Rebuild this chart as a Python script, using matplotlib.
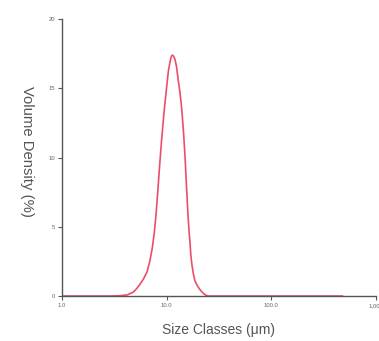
import matplotlib
matplotlib.use("Agg")
import matplotlib.pyplot as plt
from matplotlib.ticker import FixedLocator, FixedFormatter

# particle size (um) and volume density (%)
size_um = [1.0, 2.0, 3.0, 3.6, 4.2, 4.8, 5.15, 5.5, 6.0, 6.5, 6.9, 7.3, 7.6,
           7.9, 8.2, 8.6, 9.0, 9.5, 10.0, 10.4, 10.9, 11.15, 11.4, 11.7,
           12.0, 12.4, 12.9, 13.4, 13.9, 14.5, 15.0, 15.5, 16.0, 16.4, 16.7,
           17.0, 17.4, 17.95, 18.6, 19.3, 20.0, 21.0, 22.4, 23.5, 25.0, 30.0,
           50.0, 100.0, 200.0, 480.0]
density = [0.0, 0.0, 0.0, 0.02, 0.08, 0.28, 0.52, 0.8, 1.22, 1.75, 2.5, 3.5,
           4.5, 5.8, 7.4, 9.6, 11.5, 13.5, 15.1, 16.3, 17.1, 17.35, 17.4, 17.3,
           17.1, 16.6, 15.6, 14.7, 13.6, 11.8, 10.0, 7.8, 5.8, 4.6, 3.9,
           3.0, 2.3, 1.65, 1.1, 0.85, 0.65, 0.42, 0.19, 0.07, 0.0, 0.0,
           0.0, 0.0, 0.0, 0.0]

x_ticks = [1, 10, 100, 1000]
x_tick_labels = ["1.0", "10.0", "100.0", "1,000"]
y_ticks = [0, 5, 10, 15, 20]

plt.rcParams["font.family"] = ["Liberation Sans", "DejaVu Sans"]

fig = plt.figure(figsize=(3.79, 3.41), dpi=100)
ax = fig.add_axes([0.1636, 0.132, 0.992 - 0.1636, 0.944 - 0.132])

ax.plot(size_um, density, color="#ee4d69", lw=1.2,
        solid_capstyle="round", solid_joinstyle="round")

ax.set_xscale("log")
ax.set_xlim(1, 1000)
ax.set_ylim(0, 20)
ax.xaxis.set_major_locator(FixedLocator(x_ticks))
ax.xaxis.set_major_formatter(FixedFormatter(x_tick_labels))
ax.xaxis.set_minor_locator(FixedLocator([]))
ax.set_yticks(y_ticks)
ax.set_yticklabels([str(v) for v in y_ticks])

for side in ("top", "right"):
    ax.spines[side].set_visible(False)
for side in ("left", "bottom"):
    ax.spines[side].set_color("#555555")
    ax.spines[side].set_linewidth(1.0)

ax.tick_params(axis="both", length=3, width=0.8, color="#555555",
               labelsize=4.2, labelcolor="#666666", pad=2)

ax.set_xlabel("Size Classes (\u03bcm)", fontsize=10, color="#555555")
ax.xaxis.set_label_coords(0.5, -0.098)
ax.set_ylabel("Volume Density (%)", fontsize=10.7, color="#555555",
              rotation=270, va="center")
ax.yaxis.set_label_coords(-0.11, 0.523)

fig.savefig("out.png", dpi=100)
